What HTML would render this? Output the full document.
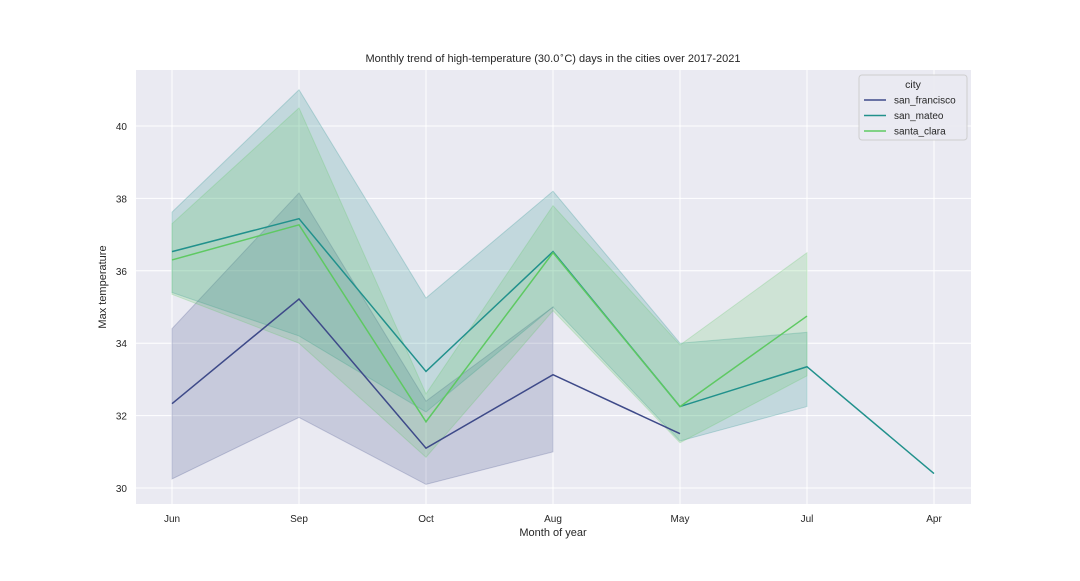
<!DOCTYPE html>
<html><head><meta charset="utf-8"><style>
body{margin:0;background:#fff;font-family:"Liberation Sans",Arial,sans-serif}
svg text{font-family:"Liberation Sans",Arial,sans-serif;fill:#262626}
</style></head><body>
<svg id="chart" width="1080" height="576" xmlns="http://www.w3.org/2000/svg">
<rect width="1080" height="576" fill="#fff"/>
<rect x="136" y="70" width="835" height="434" fill="#eaeaf2"/>
<g id="grid"></g><g id="bands"></g><g id="lines"></g><g id="ticks"></g>
<text x="553" y="62" font-size="11" text-anchor="middle">Monthly trend of high-temperature (30.0<tspan dy="-4" font-size="8">∘</tspan><tspan dy="4">C) days in the cities over 2017-2021</tspan></text>
<text x="553" y="536" font-size="11" text-anchor="middle">Month of year</text>
<text x="106" y="287" font-size="11" text-anchor="middle" transform="rotate(-90 106 287)">Max temperature</text>
<g>
<rect x="859" y="75" width="108" height="65" rx="3" fill="#eaeaf2" stroke="#cccccc" opacity="0.9"/>
<text x="913" y="88" font-size="10.5" text-anchor="middle">city</text>
<g id="legend-items"></g>
</g>
</svg>
<script>
const categories=["Jun","Sep","Oct","Aug","May","Jul","Apr"];
const cities=["san_francisco","san_mateo","santa_clara"];
const colors=["#3e4a89","#21918c","#5ec962"];
const sfMean=[32.33,35.22,31.1,33.13,31.5,null,null];
const sfLow=[30.25,31.95,30.1,31.0,null,null,null];
const sfHigh=[34.4,38.15,32.4,35.0,null,null,null];
const smMean=[36.53,37.44,33.22,36.53,32.25,33.35,30.4];
const smLow=[35.4,34.2,32.1,35.0,31.3,32.25,null];
const smHigh=[37.62,41.0,35.25,38.2,34.0,34.3,null];
const scMean=[36.3,37.27,31.83,36.5,32.25,34.75,null];
const scLow=[35.35,34.0,30.85,34.9,31.25,33.1,null];
const scHigh=[37.3,40.5,32.6,37.8,33.95,36.5,null];
const yTicks=[30,32,34,36,38,40];
const NS="http://www.w3.org/2000/svg";
const xs=i=>172+i*127;
const ys=v=>488-(v-30)*36.2;
function mk(t,a,p){const e=document.createElementNS(NS,t);for(const k in a)e.setAttribute(k,a[k]);p.appendChild(e);return e;}
const grid=document.getElementById('grid'),ticks=document.getElementById('ticks');
categories.forEach((c,i)=>{const l=mk('line',{x1:xs(i),x2:xs(i),y1:70,y2:504,stroke:'#fff','stroke-width':1},grid);

const t=mk('text',{x:xs(i),y:522,'font-size':10,'text-anchor':'middle'},ticks);t.textContent=c;
});
yTicks.forEach(v=>{const l=mk('line',{x1:136,x2:971,y1:ys(v),y2:ys(v),stroke:'#fff','stroke-width':1},grid);

const t=mk('text',{x:127,y:ys(v)+4,'font-size':10,'text-anchor':'end'},ticks);t.textContent=v;
});
const series=[[sfMean,sfLow,sfHigh],[smMean,smLow,smHigh],[scMean,scLow,scHigh]];
const bands=document.getElementById('bands'),lines=document.getElementById('lines');
series.forEach((s,k)=>{const [m,lo,hi]=s;
const idx=lo.map((v,i)=>v!=null?i:-1).filter(i=>i>=0);
if(idx.length){const up=idx.map(i=>xs(i)+','+ys(hi[i]));const dn=idx.slice().reverse().map(i=>xs(i)+','+ys(lo[i]));
const p=mk('polygon',{points:up.concat(dn).join(' '),fill:colors[k],'fill-opacity':0.2,stroke:colors[k],'stroke-opacity':0.25},bands);
}
const pts=m.map((v,i)=>v!=null?xs(i)+','+ys(v):null).filter(x=>x);
const pl=mk('polyline',{points:pts.join(' '),fill:'none',stroke:colors[k],'stroke-width':1.5},lines);
});
const li=document.getElementById('legend-items');
cities.forEach((c,k)=>{const y=100+k*15.5;
const g=mk('g',{},li);
mk('line',{x1:864,x2:886,y1:y,y2:y,stroke:colors[k],'stroke-width':1.5},g);
const t=mk('text',{x:894,y:y+3.5,'font-size':10},g);t.textContent=c;});
</script>
</body></html>
